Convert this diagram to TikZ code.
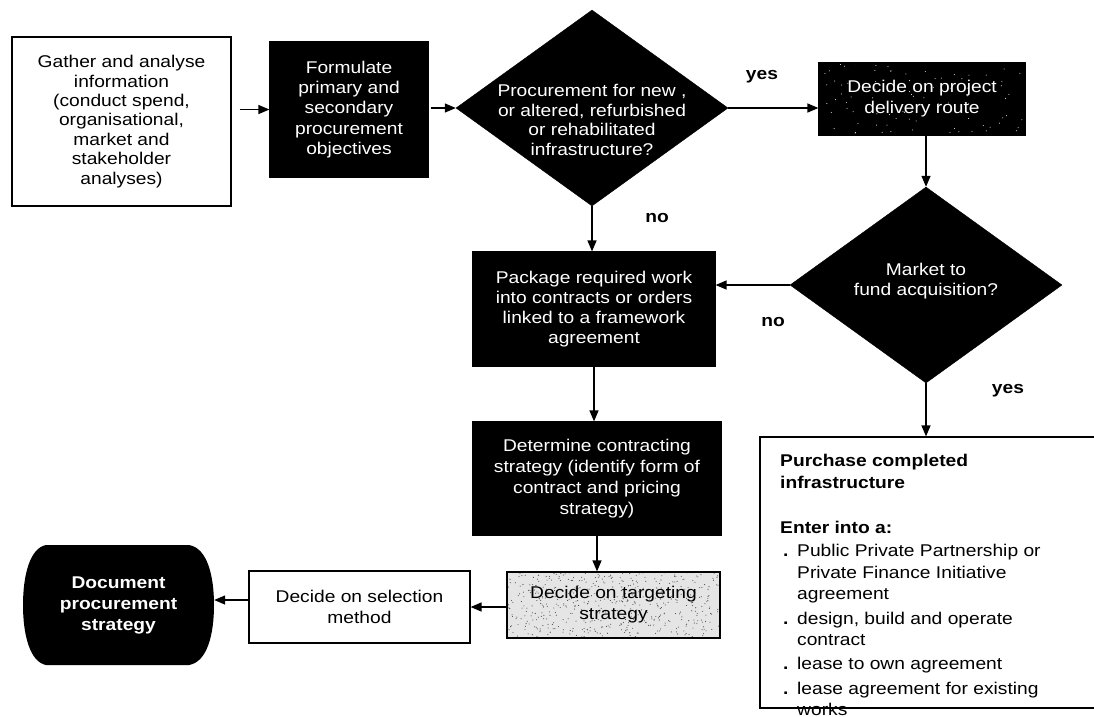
\documentclass[tikz,border=0pt]{standalone}
\usepackage{fontspec}
\setmainfont{Liberation Sans}[FakeStretch=1.13]
\usetikzlibrary{arrows.meta,backgrounds,shapes.geometric}

\begin{document}
\begin{tikzpicture}[x=1pt,y=-1pt,
  txt/.style={font=\fontsize{17}{#1}\selectfont},
  txt/.default=19.6,
  box/.style={draw=black, line width=1.2pt, align=center, inner sep=0pt},
  darkbox/.style={box, fill=black, text=white},
  decision/.style={diamond, fill=black, draw=black, inner sep=0pt,
                   minimum width=272pt, minimum height=196pt},
  flow/.style={line width=1.3pt, -{Triangle[length=11pt,width=9pt]}},
  lbl/.style={font=\fontsize{17}{20}\selectfont\bfseries, inner sep=0pt},
  item/.style={anchor=base west, inner sep=0pt, font=\fontsize{17}{20}\selectfont},
]
\useasboundingbox (0,0) rectangle (1094,716);

% ---- upper row -------------------------------------------------------
\node[box, txt=19.4, minimum width=219pt, minimum height=169pt] (gather) at (121.5,121.5)
  {Gather and analyse\\information\\(conduct spend,\\organisational,\\market and\\stakeholder\\analyses)};

\node[darkbox, txt=20.3, minimum width=158pt, minimum height=135pt] (formulate) at (349,109.5)
  {Formulate\\primary and\\secondary\\procurement\\objectives};

\node[decision] (d1) at (592,108) {};
\node[txt=19.7, text=white, align=center, inner sep=0pt] (d1t) at (592,120)
  {Procurement for new ,\\or altered, refurbished\\or rehabilitated\\infrastructure?};

\node[box, txt=21, text=white, minimum width=206pt, minimum height=72pt] (decide) at (922,99)
  {Decide on project\\delivery route};

% ---- middle ----------------------------------------------------------
\node[decision] (market) at (926,285) {};
\node[txt=20, text=white, align=center, inner sep=0pt] (markett) at (926,281)
  {Market to\\fund acquisition?};

\node[darkbox, txt=20, minimum width=242pt, minimum height=114pt] (package) at (594,309)
  {Package required work\\into contracts or orders\\linked to a framework\\agreement};

\node[darkbox, txt=21, minimum width=248pt, minimum height=113pt] (determine) at (597,478.5)
  {Determine contracting\\strategy (identify form of\\contract and pricing\\strategy)};

% ---- bottom row ------------------------------------------------------
\node[box, txt=21, minimum width=213pt, minimum height=66pt] (target) at (613.5,605)
  {Decide on targeting\\strategy};

\node[box, txt=21, minimum width=221pt, minimum height=72pt] (select) at (359.5,607)
  {Decide on selection\\method};

\fill[black] (46,545) -- (189,545)
  .. controls (207,548) and (214,575) .. (214,605)
  .. controls (214,635) and (207,662) .. (189,665)
  -- (46,665)
  .. controls (30,662) and (23,635) .. (23,605)
  .. controls (23,575) and (30,548) .. (46,545) -- cycle;
\node[font=\fontsize{17}{21}\selectfont\bfseries, text=white, align=center, inner sep=0pt,
      minimum width=191pt, minimum height=120pt] (doc) at (118.5,605)
  {Document\\procurement\\strategy};

% ---- purchase options ------------------------------------------------
\node[draw=black, line width=1.2pt, minimum width=350pt, minimum height=271pt, inner sep=0pt]
  (purchase) at (935,572.5) {};
\node[item] (p1) at (780,466) {\textbf{Purchase completed}};
\node[item] (p2) at (780,488) {\textbf{infrastructure}};
\node[item] (p3) at (780,533) {\textbf{Enter into a:}};
\node[item] (b1) at (783,556) {\textbf{.}};
\node[item] (p4) at (797,556) {Public Private Partnership or};
\node[item] (p5) at (797,578) {Private Finance Initiative};
\node[item] (p6) at (797,599) {agreement};
\node[item] (b2) at (783,624) {\textbf{.}};
\node[item] (p7) at (797,624) {design, build and operate};
\node[item] (p8) at (797,645) {contract};
\node[item] (b3) at (783,669) {\textbf{.}};
\node[item] (p9) at (797,669) {lease to own agreement};
\node[item] (b4) at (783,694) {\textbf{.}};
\node[item] (p10) at (797,694) {lease agreement for existing};
\node[item] (p11) at (797,715) {works};

% ---- page and halftone fills behind the boxes ---------------------------
\begin{scope}[on background layer]
  \fill[white] (0,0) rectangle (1094,716);
  \fill[black] (decide.south west) rectangle (decide.north east);
  \pgfmathsetseed{7}
  \foreach \k in {1,...,90} {
    \fill[white] ({819+206*rnd},{63+72*rnd}) circle (0.5pt);
  }
  \fill[black!10] (target.south west) rectangle (target.north east);
  \foreach \k in {1,...,520} {
    \fill[black!70] ({507+213*rnd},{572+66*rnd}) circle (0.55pt);
  }
\end{scope}

% ---- connectors ------------------------------------------------------
\draw[flow, shorten <=8pt] (gather.east |- formulate.west) -- (formulate.west);
\draw[flow, shorten <=2pt] (formulate.east |- d1.west) -- (d1.west);
\draw[flow] (d1.east) -- (d1.east -| decide.west);
\draw[flow] (d1.south) -- (d1.south |- package.north);
\draw[flow] (decide.south -| market.north) -- (market.north);
\draw[flow] (market.west) -- (market.west -| package.east);
\draw[flow] (market.south) -- (market.south |- purchase.north);
\draw[flow] (package.south) -- (package.south |- determine.north);
\draw[flow] (determine.south) -- (determine.south |- target.north);
\draw[flow] (target.west |- select.east) -- (select.east);
\draw[flow] ([yshift=7pt]select.west) -- ([yshift=7pt]select.west -| doc.east);

\node[lbl] (yes1) at (762,77) {yes};
\node[lbl] (no1) at (657,218) {no};
\node[lbl] (no2) at (773,322) {no};
\node[lbl] (yes2) at (1008,391) {yes};
\end{tikzpicture}
\end{document}
